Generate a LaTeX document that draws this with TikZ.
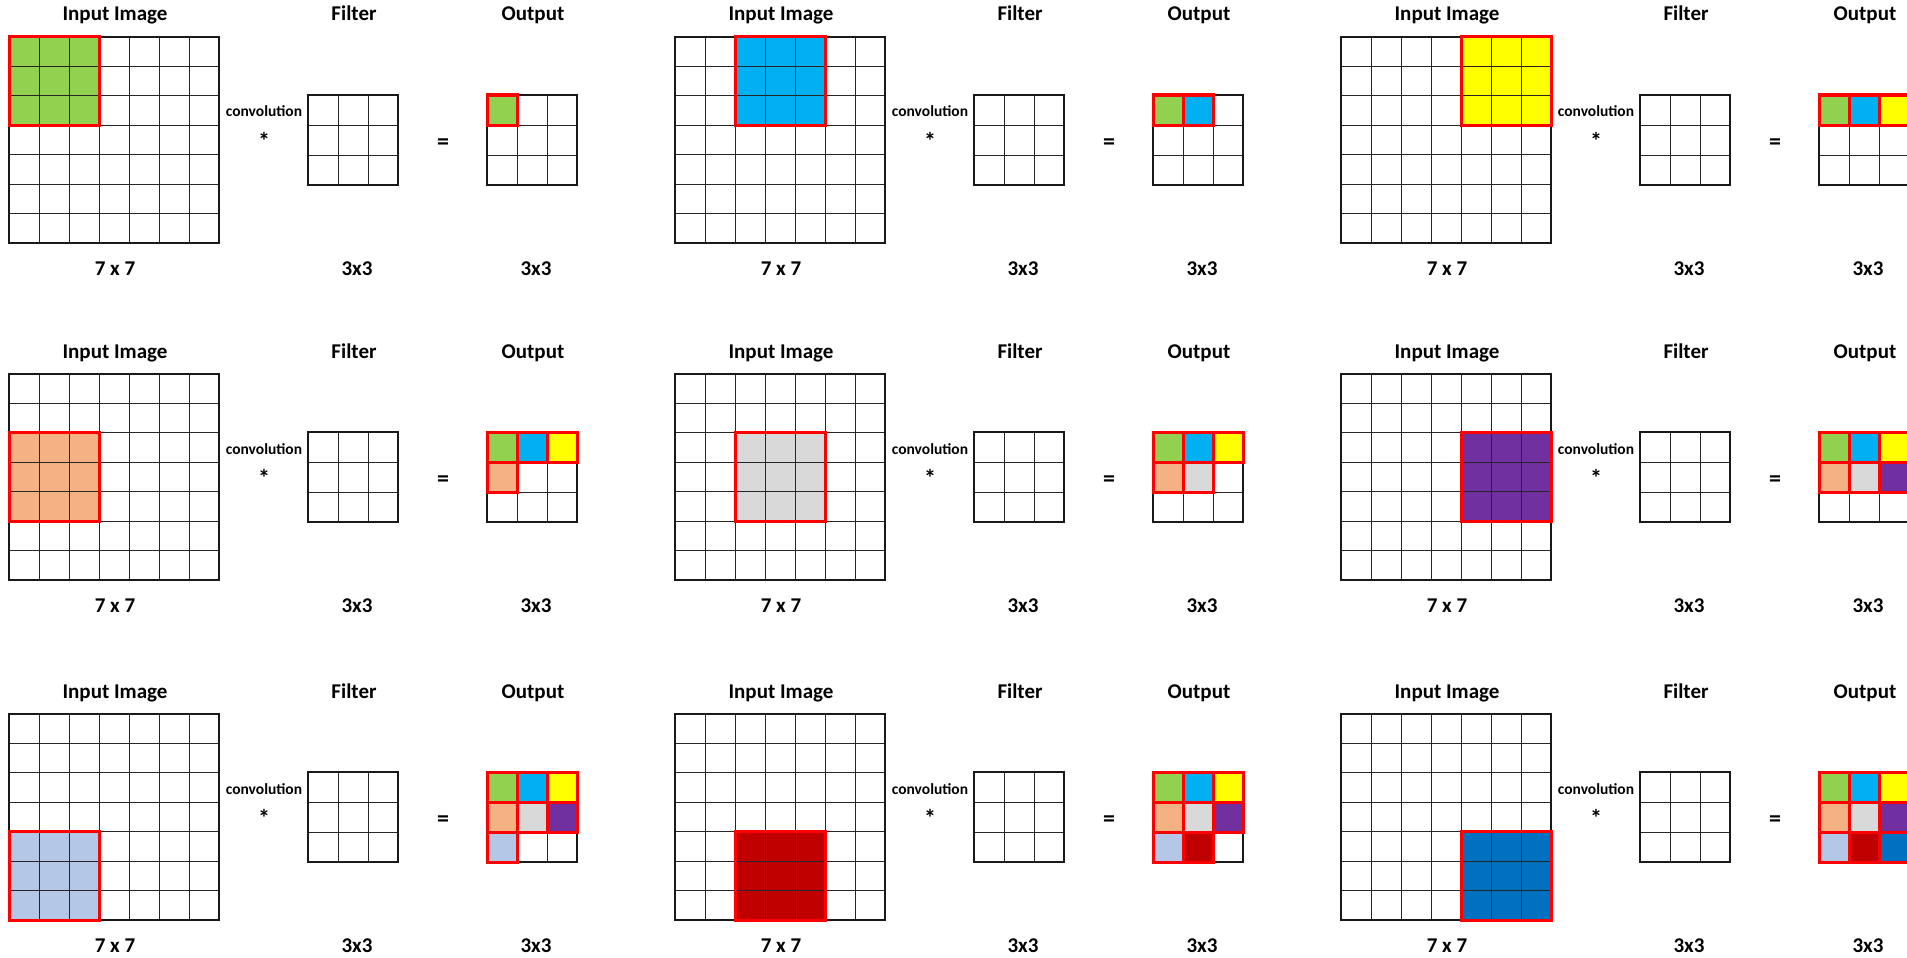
\documentclass[tikz,border=0pt]{standalone}
\usepackage{fontspec}
\setmainfont{Carlito}
\definecolor{c1}{RGB}{146,208,80}
\definecolor{c2}{RGB}{0,176,240}
\definecolor{c3}{RGB}{255,255,0}
\definecolor{c4}{RGB}{244,177,131}
\definecolor{c5}{RGB}{217,217,217}
\definecolor{c6}{RGB}{112,48,160}
\definecolor{c7}{RGB}{180,199,231}
\definecolor{c8}{RGB}{192,0,0}
\definecolor{c9}{RGB}{0,112,192}
\definecolor{hl}{RGB}{255,0,0}
\begin{document}
\begin{tikzpicture}[x=1pt,y=-1pt,
  title/.style={font=\fontsize{21}{24}\selectfont\bfseries, inner sep=0pt, anchor=base},
  conv/.style={font=\fontsize{15.5}{18}\selectfont\bfseries, inner sep=0pt, anchor=base},
  op/.style={font=\fontsize{24}{28}\selectfont\bfseries, inner sep=0pt, anchor=center},
  innerline/.style={draw=black!85, line width=1pt},
  outerline/.style={draw=black!90, line width=2pt},
  redline/.style={draw=hl, line width=3pt}]
\useasboundingbox (0,0) rectangle (1907,958);
\fill[white] (0,0) rectangle (1907,958);
\def\ch{29.43}
\foreach \r/\gy in {0/37,1/374,2/714}{
  \foreach \c/\gx in {0/9,1/675,2/1341}{
    \pgfmathtruncatemacro\k{3*\r+\c+1}
    % input highlight fill
    \fill[c\k] (\gx+60*\c, \gy+2*\r*\ch) rectangle ++(90, 3*\ch);
    % output fills
    \foreach \m in {1,...,\k}{
      \pgfmathtruncatemacro\orow{int((\m-1)/3)}
      \pgfmathtruncatemacro\ocol{mod(\m-1,3)}
      \fill[c\m] (\gx+478+30*\ocol, \gy+58+30*\orow) rectangle ++(30,30);
    }
    % input grid
    \foreach \i in {1,...,6}{
      \draw[innerline] (\gx+30*\i, \gy) -- (\gx+30*\i, \gy+7*\ch);
      \draw[innerline] (\gx, \gy+\i*\ch) -- (\gx+210, \gy+\i*\ch);
    }
    \draw[outerline] (\gx,\gy) rectangle ++(210, 7*\ch);
    % filter and output grids
    \foreach \ox in {299,478}{
      \foreach \i in {1,2}{
        \draw[innerline] (\gx+\ox+30*\i, \gy+58) -- ++(0,90);
        \draw[innerline] (\gx+\ox, \gy+58+30*\i) -- ++(90,0);
      }
      \draw[outerline] (\gx+\ox, \gy+58) rectangle ++(90,90);
    }
    % red borders
    \draw[redline] (\gx+60*\c, \gy+2*\r*\ch) rectangle ++(90, 3*\ch);
    \foreach \m in {1,...,\k}{
      \pgfmathtruncatemacro\orow{int((\m-1)/3)}
      \pgfmathtruncatemacro\ocol{mod(\m-1,3)}
      \draw[redline] (\gx+478+30*\ocol, \gy+58+30*\orow) rectangle ++(30,30);
    }
    % labels
    \node[title] (tin\k) at (\gx+106, \gy-16) {Input Image};
    \node[title] (tfi\k) at (\gx+345, \gy-16) {Filter};
    \node[title] (tou\k) at (\gx+524, \gy-16) {Output};
    \node[conv] (cv\k) at (\gx+255, \gy+80) {convolution};
    \node[op] (st\k) at (\gx+255, \gy+104) {*};
    \node[op] (eq\k) at (\gx+434, \gy+107) {=};
    \node[title] (bin\k) at (\gx+106, \gy+238) {7 x 7};
    \node[title] (bfi\k) at (\gx+348, \gy+238) {3x3};
    \node[title] (bou\k) at (\gx+527, \gy+238) {3x3};
  }
}
\end{tikzpicture}
\end{document}
